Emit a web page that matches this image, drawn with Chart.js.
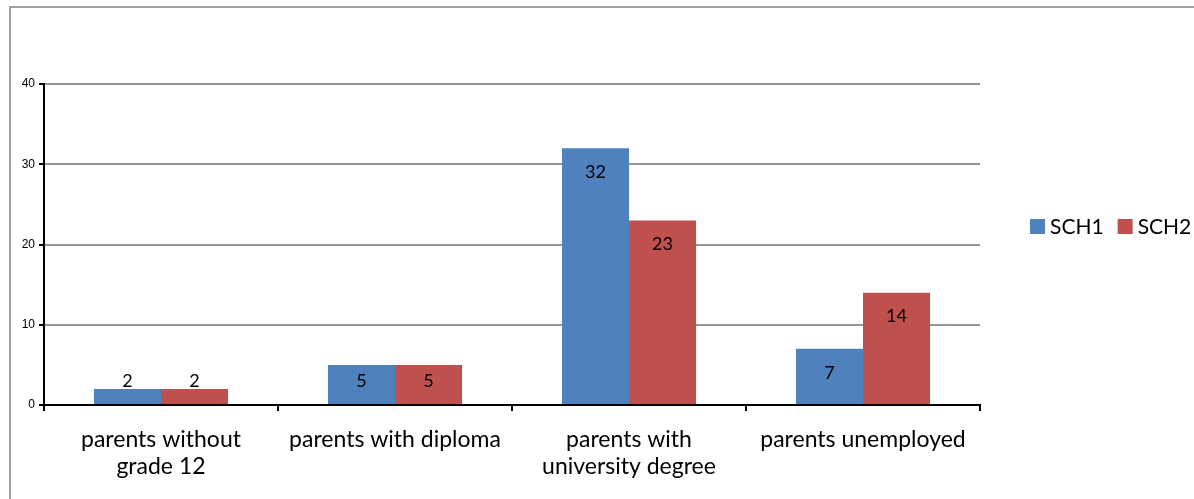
<!DOCTYPE html>
<html lang="en">
<head>
    <meta charset="UTF-8">
    <title>SCH1 / SCH2</title>
    <script src="https://cdn.jsdelivr.net/npm/chart.js@4/dist/chart.umd.min.js"></script>
    <style>
        body { margin: 0; background: #fff; }
    </style>
</head>
<body>
    <canvas id="chart" width="1194" height="499"></canvas>
    <script>
        const categories = [
            ['parents without', 'grade 12'],
            'parents with diploma',
            ['parents with', 'university degree'],
            'parents unemployed'
        ];
        const sch1 = [2, 5, 32, 7];
        const sch2 = [2, 5, 23, 14];
        const yTicks = [0, 10, 20, 30, 40];

        const txtFont = 'Lato, "Open Sans", sans-serif';

        // border round the chart, labels inside bar ends, legend on the right
        const extras = {
            id: 'extras',
            afterDraw(chart) {
                const ctx = chart.ctx;
                ctx.save();
                ctx.strokeStyle = '#a0a0a0';
                ctx.lineWidth = 2;
                ctx.strokeRect(10, 7, chart.width + 20, chart.height + 20);

                const base = chart.scales.y.getPixelForValue(0);
                ctx.fillStyle = '#000';
                ctx.font = '18px ' + txtFont;
                ctx.textAlign = 'center';
                ctx.textBaseline = 'middle';
                chart.data.datasets.forEach((ds, i) => {
                    chart.getDatasetMeta(i).data.forEach((bar, j) => {
                        const y = Math.min(bar.y + 24, base - 24);
                        ctx.fillText(ds.data[j], bar.x, y);
                    });
                });

                ctx.font = '21px ' + txtFont;
                ctx.textAlign = 'left';
                let x = chart.chartArea.right + 50;
                const ly = 226;
                chart.data.datasets.forEach(ds => {
                    ctx.fillStyle = ds.backgroundColor;
                    ctx.fillRect(x, ly - 7, 15, 15);
                    ctx.fillStyle = '#000';
                    ctx.fillText(ds.label, x + 20, ly + 1);
                    x += 20 + ctx.measureText(ds.label).width + 14;
                });
                ctx.restore();
            }
        };

        new Chart(document.getElementById('chart'), {
            type: 'bar',
            data: {
                labels: categories,
                datasets: [
                    { label: 'SCH1', data: sch1, backgroundColor: '#4F81BD', categoryPercentage: 0.573, barPercentage: 1 },
                    { label: 'SCH2', data: sch2, backgroundColor: '#C0504D', categoryPercentage: 0.573, barPercentage: 1 }
                ]
            },
            options: {
                responsive: false,
                animation: false,
                layout: { padding: { left: 0, top: 84, right: 214, bottom: 0 } },
                plugins: { legend: { display: false }, tooltip: { enabled: false } },
                scales: {
                    x: {
                        afterFit: s => { s.height = 94; },
                        grid: { offset: true, drawOnChartArea: false, tickLength: 6, tickColor: '#000', lineWidth: 2 },
                        border: { color: '#000', width: 2 },
                        ticks: { color: '#000', font: { family: txtFont, size: 23, lineHeight: 1.17 }, padding: 15, maxRotation: 0, autoSkip: false }
                    },
                    y: {
                        min: 0,
                        max: 40,
                        afterFit: s => { s.width = 44; },
                        afterBuildTicks: s => { s.ticks = yTicks.map(v => ({ value: v })); },
                        grid: { color: '#969696', lineWidth: 2, tickLength: 5, tickColor: '#000' },
                        border: { color: '#000', width: 2 },
                        ticks: { color: '#000', font: { family: 'Arial, "Liberation Sans"', size: 12 }, padding: 4 }
                    }
                }
            },
            plugins: [extras]
        });
    </script>
</body>
</html>
